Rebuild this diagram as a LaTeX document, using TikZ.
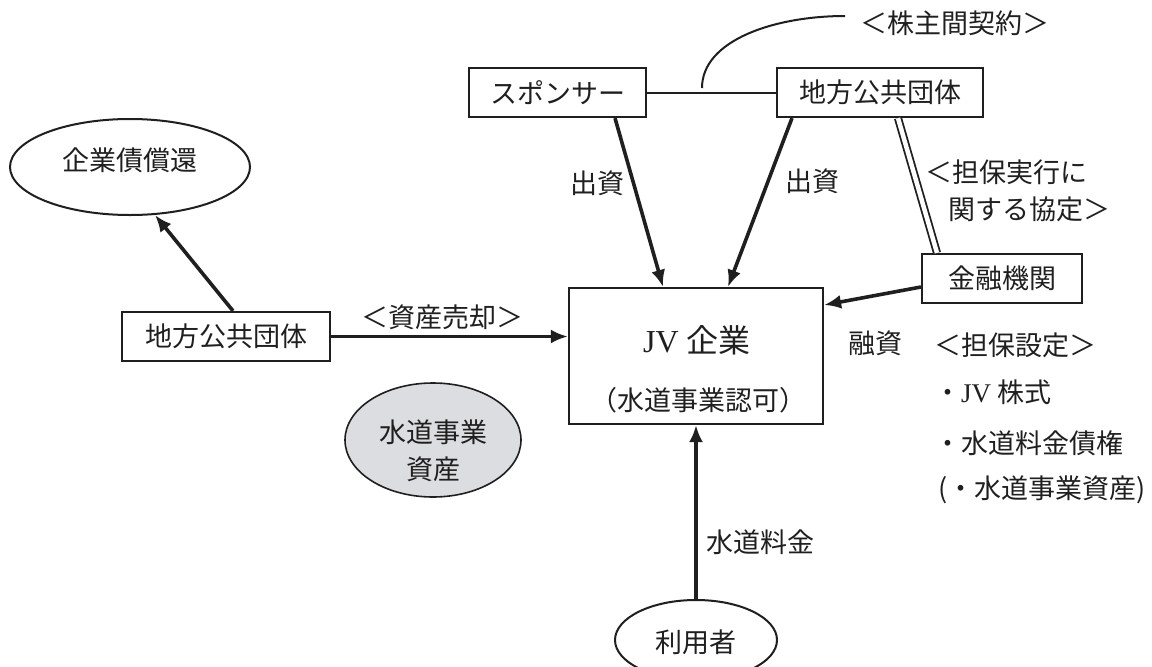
\documentclass[tikz,border=0pt]{standalone}
\usepackage{fontspec}
\setmainfont{Liberation Serif}
\newfontfamily\cjk{Noto Sans CJK JP}
\usetikzlibrary{arrows.meta,shapes.geometric,calc}
\definecolor{ink}{HTML}{1F1F1F}
\definecolor{assetgrey}{HTML}{DCDDE1}
\begin{document}
\begin{tikzpicture}[x=1pt,y=-1pt,
  every node/.style={font=\cjk\fontsize{27pt}{37pt}\selectfont, text=ink, inner sep=0pt},
  boxnode/.style={draw=ink, line width=2.2pt, rectangle},
  ellnode/.style={draw=ink, line width=2pt, ellipse},
  flow/.style={line width=3.6pt, draw=ink, -{Latex[length=17pt,width=14pt]}},
  thinline/.style={line width=2pt, draw=ink}]
\useasboundingbox (0,0) rectangle (1152,667);

% nodes
\node[boxnode, minimum width=177pt, minimum height=49pt] (sp) at (557.5,92.5) {スポンサー};
\node[boxnode, minimum width=206pt, minimum height=49pt] (tr) at (880,92.5) {地方公共団体};
\node[boxnode, minimum width=160pt, minimum height=49pt] (fin) at (1002,278.5) {金融機関};
\node[boxnode, minimum width=208pt, minimum height=49pt] (lb) at (226,336.5) {地方公共団体};
\node[boxnode, minimum width=254pt, minimum height=136pt] (jv) at (696,356) {};
\node[font=\fontsize{32pt}{37pt}\selectfont] (jvt) at (697,340) {\rmfamily JV\ {\cjk 企業}};
\node (jvs) at (698,400) {（水道事業認可）};
\node[ellnode, minimum width=240pt, minimum height=96pt] (red) at (130,167) {};
\node (redt) at (130,160) {企業債償還};
\node[ellnode, fill=assetgrey, line width=1.6pt, minimum width=176pt, minimum height=114pt] (asset) at (433,440) {};
\node[align=center] (assett) at (433,451) {水道事業\\資産};
\node[ellnode, minimum width=162pt, minimum height=80pt] (user) at (696,640) {};
\node (usert) at (696,642) {利用者};

% labels
\node (kab) at (955,23) {＜株主間契約＞};
\node (de1) at (597,183) {出資};
\node (de2) at (812,181) {出資};
\node[align=left, anchor=west] (tanpo) at (925,191) {＜担保実行に\\\hspace*{23pt}関する協定＞};
\node (sale) at (442,317) {＜資産売却＞};
\node (yushi) at (875,343) {融資};
\node (fee) at (760,542) {水道料金};
\node[anchor=west] (s0) at (934,345) {＜担保設定＞};
\node[anchor=west] (s1) at (934,392) {・{\rmfamily JV}\ 株式};
\node[anchor=west] (s2) at (934,443) {・水道料金債権};
\node[anchor=west] (s3) at (938,490) {(・水道事業資産)};

% connectors
\draw[thinline] (sp.east) -- (tr.west);
\coordinate (c0) at (702,88);
\coordinate (c1) at (845,16);
\draw[thinline] (c0) .. controls (702,40) and (775,16) .. (c1);
\draw[flow] ([xshift=57.5pt]sp.south) -- ([xshift=-33pt]jv.north);
\draw[flow] ([xshift=-88pt]tr.south) -- ([xshift=32pt]jv.north);
\draw[line width=1.8pt, draw=ink, double=white, double distance=4.5pt] ([xshift=18pt]tr.south) -- ([xshift=-65pt]fin.north);
\draw[flow] ([yshift=-8.5pt]fin.west) -- ([yshift=51pt]jv.east);
\draw[flow] (lb.east) -- (lb.east -| jv.west);
\draw[flow] ([xshift=7pt]lb.north) -- ([xshift=25pt,yshift=1pt]red.south);
\draw[flow] (user.north) -- (jv.south);
\end{tikzpicture}
\end{document}
